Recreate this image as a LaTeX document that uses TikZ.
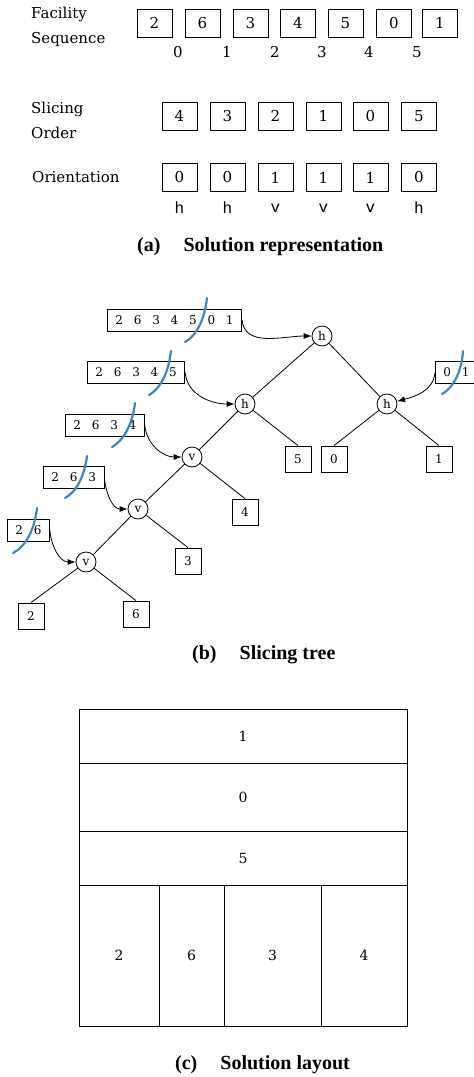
\documentclass[tikz,border=0pt]{standalone}
\usepackage{fontspec}
\setmainfont{DejaVu Serif}
\newfontfamily\capfont{Liberation Serif}
\newfontfamily\monofnt{Liberation Mono}
\usetikzlibrary{arrows.meta}
\definecolor{cutblue}{RGB}{66,133,196}
\newcommand{\gp}{\hspace{10.8pt}}
\begin{document}
\begin{tikzpicture}[x=1pt,y=-1pt,
  every node/.style={inner sep=0pt},
  cell/.style={draw,line width=0.9pt,minimum width=35pt,minimum height=28pt,font=\fontsize{15}{15}\selectfont},
  rowlbl/.style={anchor=west,align=left,font=\fontsize{15}{25}\selectfont},
  idx/.style={font=\fontsize{15}{15}\selectfont},
  ori/.style={font=\monofnt\fontsize{16}{16}\selectfont},
  seqbox/.style={draw,line width=0.8pt,anchor=west,minimum height=22pt,inner xsep=8pt,font=\fontsize{12}{12}\selectfont},
  op/.style={circle,draw,line width=0.8pt,minimum size=20pt,font=\fontsize{12}{12}\selectfont},
  leaf/.style={draw,line width=0.8pt,minimum width=26pt,minimum height=26pt,font=\fontsize{12}{12}\selectfont},
  edge/.style={line width=0.8pt},
  feed/.style={line width=0.8pt,-{Latex[length=8pt,width=6pt]}},
  cut/.style={cutblue,line width=2.2pt,line cap=round},
  room/.style={line width=1pt},
  roomlbl/.style={font=\fontsize{14}{14}\selectfont},
  captxt/.style={anchor=west,font=\capfont\bfseries\fontsize{20}{20}\selectfont}
]
\useasboundingbox (0,0) rectangle (474,1077);

% ---------- (a) solution representation ----------
\node[rowlbl] (lblseq) at (31,27) {Facility\\Sequence};
\foreach \v [count=\i] in {2,6,3,4,5,0,1}{
  \pgfmathsetmacro{\xx}{{154.5,202.5,250.5,298,345.5,394,440}[\i-1]}
  \node[cell] (f\i) at (\xx,23) {\v};
}
\foreach \v [count=\i] in {0,1,2,3,4,5}{
  \pgfmathsetmacro{\xx}{{178,227,275,322,369,417}[\i-1]}
  \node[idx] (k\i) at (\xx,52) {\v};
}

\node[rowlbl] (lblord) at (31,120) {Slicing\\Order};
\foreach \v [count=\i] in {4,3,2,1,0,5}{
  \pgfmathsetmacro{\xx}{{179.5,227.5,275.5,323.5,370.5,419}[\i-1]}
  \node[cell] (o\i) at (\xx,116) {\v};
}

\node[rowlbl] (lblori) at (32,177) {Orientation};
\foreach \v/\d [count=\i] in {0/h,0/h,1/v,1/v,1/v,0/h}{
  \pgfmathsetmacro{\xx}{{179.5,227.5,275.5,323.5,370.5,419}[\i-1]}
  \node[cell] (r\i) at (\xx,177.5) {\v};
  \node[ori] (d\i) at (\xx,208) {\d};
}

\node[captxt] (capa) at (137,247) {(a)\hspace{23pt}Solution representation};

% ---------- (b) slicing tree ----------
\node[seqbox] (tb) at (107,320)   {2\gp6\gp3\gp4\gp5\gp0\gp1};
\node[seqbox] (b2) at (87,372.5)  {2\gp6\gp3\gp4\gp5};
\node[seqbox] (b3) at (65,425)    {2\gp6\gp3\gp4};
\node[seqbox] (b4) at (43,477.5)  {2\gp6\gp3};
\node[seqbox] (b5) at (7,530.5)   {2\gp6};
\node[seqbox] (rb) at (435,372.5) {0\gp1\hspace{16pt}};

\node[op] (h0) at (322,336) {h};
\node[op] (h1) at (245,404) {h};
\node[op] (h2) at (387,404) {h};
\node[op] (v1) at (192,457) {v};
\node[op] (v2) at (138,509) {v};
\node[op] (v3) at (86,562)  {v};

\node[leaf] (l5) at (298,459) {5};
\node[leaf] (l0) at (334,459) {0};
\node[leaf] (l1) at (439,459) {1};
\node[leaf] (l4) at (245,512) {4};
\node[leaf] (l3) at (188,561) {3};
\node[leaf] (l2) at (31,616)  {2};
\node[leaf] (l6) at (136,614) {6};

\draw[edge] (h0) -- (h1);
\draw[edge] (h0) -- (h2);
\draw[edge] (h1) -- (v1);
\draw[edge] (h1) -- (l5.north);
\draw[edge] (h2) -- (l0.north);
\draw[edge] (h2) -- (l1.north);
\draw[edge] (v1) -- (v2);
\draw[edge] (v1) -- (l4.north);
\draw[edge] (v2) -- (v3);
\draw[edge] (v2) -- (l3.north);
\draw[edge] (v3) -- (l2.north);
\draw[edge] (v3) -- (l6.north);

\draw[feed] (tb.east) to[out=-85,in=180] (h0);
\draw[feed] (b2.east) to[out=-85,in=180] (h1);
\draw[feed] (b3.east) to[out=-85,in=180] (v1);
\draw[feed] (b4.east) to[out=-85,in=180] (v2);
\draw[feed] (b5.east) to[out=-85,in=180] (v3);
\draw[feed] (rb.west) to[out=-95,in=15] (h2);

% cut marks
\draw[cut] (185,342) .. controls (199,334) and (205,315) .. (207,298);
\draw[cut] (149,395) .. controls (163,387) and (169,368) .. (171,351);
\draw[cut] (442,394) .. controls (456,386) and (462,367) .. (463,351);
\draw[cut] (112,447) .. controls (126,439) and (133,420) .. (135,403);
\draw[cut] (65,498)  .. controls (79,490)  and (85,472)  .. (87,456);
\draw[cut] (13,553)  .. controls (28,545)  and (35,526)  .. (37,508);

\node[captxt] (capb) at (192,655) {(b)\hspace{23pt}Slicing tree};

% ---------- (c) solution layout ----------
\draw[room] (79,709) rectangle (407,1026);
\draw[room] (79,763) -- (407,763);
\draw[room] (79,831) -- (407,831);
\draw[room] (79,885) -- (407,885);
\draw[room] (159,885) -- (159,1026);
\draw[room] (224,885) -- (224,1026);
\draw[room] (321,885) -- (321,1026);
\node[roomlbl] (c1) at (243,736)   {1};
\node[roomlbl] (c0) at (243,797)   {0};
\node[roomlbl] (c5) at (243,858)   {5};
\node[roomlbl] (c2) at (119,955.5) {2};
\node[roomlbl] (c6) at (191.5,955.5) {6};
\node[roomlbl] (c3) at (272.5,955.5) {3};
\node[roomlbl] (c4) at (364,955.5) {4};

\node[captxt] (capc) at (175,1065) {(c)\hspace{23pt}Solution layout};
\end{tikzpicture}
\end{document}
